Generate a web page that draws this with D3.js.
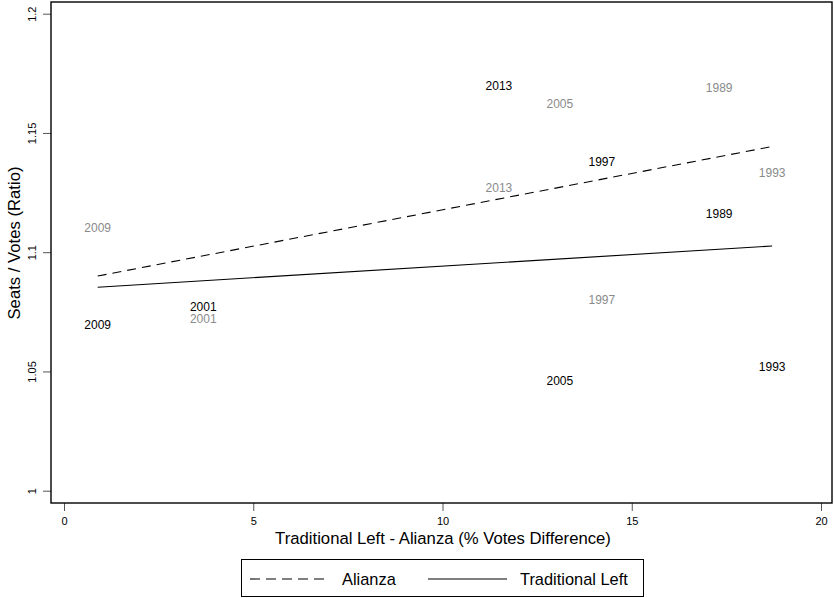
<!DOCTYPE html>
<html>
<head>
<meta charset="utf-8">
<script src="https://cdn.jsdelivr.net/npm/d3@7"></script>
<style>
  body { margin: 0; background: #fff; }
  svg { display: block; }
</style>
</head>
<body>
<script>
// election years and x = traditional left minus alianza (% votes)
const years = ["2009", "2001", "2013", "2005", "1997", "1989", "1993"];
const voteDiff = [0.89, 3.68, 11.49, 13.10, 14.21, 17.31, 18.71];
// seats / votes ratio
const alianza = [1.110, 1.072, 1.127, 1.162, 1.080, 1.169, 1.133];
const tradLeft = [1.0695, 1.077, 1.1697, 1.046, 1.138, 1.116, 1.052];

const xTicks = [0, 5, 10, 15, 20];
const yTicks = [1, 1.05, 1.1, 1.15, 1.2];

const width = 834, height = 598;
const font = "'Liberation Sans', Arial, Helvetica, sans-serif";

const x = d3.scaleLinear([0, 20], [64, 821]);
const y = d3.scaleLinear([1, 1.2], [490.7, 13.7]);

const frame = {left: 51, right: 832, top: 2, bottom: 503};

const svg = d3.select("body").append("svg")
    .attr("width", width)
    .attr("height", height)
    .style("font-family", font);

// least squares fit, like stata lfit
function lfit(xs, ys) {
  const mx = d3.mean(xs), my = d3.mean(ys);
  const sxy = d3.sum(xs, (v, i) => (v - mx) * (ys[i] - my));
  const sxx = d3.sum(xs, v => (v - mx) ** 2);
  const b = sxy / sxx, a = my - b * mx;
  const ext = d3.extent(xs);
  return ext.map(v => [v, a + b * v]);
}

const line = d3.line(d => x(d[0]), d => y(d[1]));

svg.append("path")
    .attr("d", line(lfit(voteDiff, alianza)))
    .attr("fill", "none")
    .attr("stroke", "#000")
    .attr("stroke-width", 1.1)
    .attr("stroke-dasharray", "9,6");

svg.append("path")
    .attr("d", line(lfit(voteDiff, tradLeft)))
    .attr("fill", "none")
    .attr("stroke", "#000")
    .attr("stroke-width", 1.1);

// point labels (centred on the point)
const labels = svg.append("g")
    .attr("font-size", 12)
    .attr("text-anchor", "middle")
    .attr("dominant-baseline", "central");

labels.selectAll(".al")
  .data(years)
  .join("text")
    .attr("class", "al")
    .attr("x", (d, i) => x(voteDiff[i]))
    .attr("y", (d, i) => y(alianza[i]))
    .attr("fill", "#8a8a8a")
    .text(d => d);

labels.selectAll(".tl")
  .data(years)
  .join("text")
    .attr("class", "tl")
    .attr("x", (d, i) => x(voteDiff[i]))
    .attr("y", (d, i) => y(tradLeft[i]))
    .attr("fill", "#000")
    .text(d => d);

// axes
const yAxis = svg.append("g")
    .attr("transform", `translate(${frame.left},0)`)
    .call(d3.axisLeft(y).tickValues(yTicks).tickSize(8)
      .tickFormat(d => String(+d.toFixed(2))));
yAxis.select(".domain").remove();
yAxis.selectAll("line").attr("stroke", "#555");
yAxis.selectAll("text")
    .attr("transform", "rotate(-90)")
    .attr("x", 0)
    .attr("y", -15)
    .attr("dy", 0)
    .attr("text-anchor", "middle")
    .attr("font-size", 11)
    .attr("font-family", font)
    .attr("fill", "#000");

const xAxis = svg.append("g")
    .attr("transform", `translate(0,${frame.bottom})`)
    .call(d3.axisBottom(x).tickValues(xTicks).tickSize(8));
xAxis.select(".domain").remove();
xAxis.selectAll("line").attr("stroke", "#555");
xAxis.selectAll("text")
    .attr("y", 14)
    .attr("dy", "0.71em")
    .attr("font-size", 11)
    .attr("font-family", font)
    .attr("fill", "#000");

// plot frame
svg.append("rect")
    .attr("x", frame.left)
    .attr("y", frame.top)
    .attr("width", frame.right - frame.left)
    .attr("height", frame.bottom - frame.top)
    .attr("fill", "none")
    .attr("stroke", "#000")
    .attr("stroke-width", 1.4);

// titles
svg.append("text")
    .attr("x", 443)
    .attr("y", 544)
    .attr("text-anchor", "middle")
    .attr("font-size", 16.7)
    .text("Traditional Left - Alianza (% Votes Difference)");

svg.append("text")
    .attr("transform", `translate(20,243) rotate(-90)`)
    .attr("text-anchor", "middle")
    .attr("font-size", 16.7)
    .text("Seats / Votes (Ratio)");

// legend
const legend = svg.append("g");
legend.append("rect")
    .attr("x", 241.5)
    .attr("y", 559.5)
    .attr("width", 402)
    .attr("height", 37)
    .attr("fill", "none")
    .attr("stroke", "#000")
    .attr("stroke-width", 1);

const keys = [
  {name: "Alianza", x0: 250, x1: 328, tx: 342, dash: "10,6"},
  {name: "Traditional Left", x0: 428, x1: 507, tx: 520, dash: null}
];

keys.forEach(k => {
  legend.append("line")
      .attr("x1", k.x0).attr("x2", k.x1)
      .attr("y1", 579).attr("y2", 579)
      .attr("stroke", "#000")
      .attr("stroke-width", 1.1)
      .attr("stroke-dasharray", k.dash);
  legend.append("text")
      .attr("x", k.tx)
      .attr("y", 585)
      .attr("font-size", 16.4)
      .text(k.name);
});
</script>
</body>
</html>
